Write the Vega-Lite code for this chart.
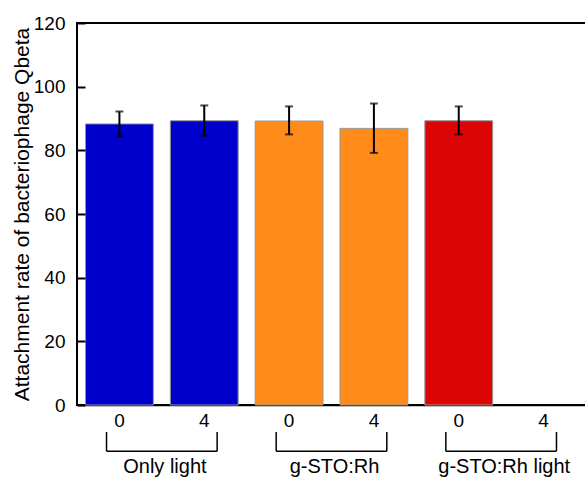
{
  "$schema": "https://vega.github.io/schema/vega-lite/v6.json",
  "autosize": "none",
  "width": 509,
  "height": 382,
  "padding": {"left": 77, "top": 23, "right": 0, "bottom": 73},
  "background": "white",
  "config": {
    "font": "Liberation Sans",
    "view": {"stroke": "black", "strokeWidth": 2},
    "axis": {"grid": false, "domainColor": "black", "domainWidth": 1.5, "labelColor": "black", "titleColor": "black", "labelFont": "Liberation Sans", "titleFont": "Liberation Sans"}
  },
  "datasets": {
    "bars": [
      {"id": "Only light|0", "group": "Only light", "value": 88.3, "lo": 84.4, "hi": 92.2},
      {"id": "Only light|4", "group": "Only light", "value": 89.3, "lo": 84.6, "hi": 94.1},
      {"id": "g-STO:Rh|0", "group": "g-STO:Rh", "value": 89.2, "lo": 85.0, "hi": 93.8},
      {"id": "g-STO:Rh|4", "group": "g-STO:Rh", "value": 86.9, "lo": 79.2, "hi": 94.7},
      {"id": "g-STO:Rh light|0", "group": "g-STO:Rh light", "value": 89.3, "lo": 85.0, "hi": 93.8},
      {"id": "g-STO:Rh light|4", "group": "g-STO:Rh light", "value": null, "lo": null, "hi": null}
    ],
    "groups": [
      {"group": "Only light", "start": "Only light|0", "end": "Only light|4"},
      {"group": "g-STO:Rh", "start": "g-STO:Rh|0", "end": "g-STO:Rh|4"},
      {"group": "g-STO:Rh light", "start": "g-STO:Rh light|0", "end": "g-STO:Rh light|4"}
    ]
  },
  "resolve": {"scale": {"x": "shared", "y": "shared"}},
  "layer": [
    {
      "data": {"name": "bars"},
      "mark": {"type": "bar", "stroke": "#999999", "strokeWidth": 1},
      "encoding": {
        "x": {
          "field": "id", "type": "nominal", "sort": null,
          "scale": {"domain": ["Only light|0", "Only light|4", "g-STO:Rh|0", "g-STO:Rh|4", "g-STO:Rh light|0", "g-STO:Rh light|4"], "paddingInner": 0.2, "paddingOuter": 0.1},
          "axis": {"title": null, "ticks": false, "labelAngle": 0, "labelPadding": 6, "labelFontSize": 19, "labelExpr": "split(datum.value, '|')[1]"}
        },
        "y": {
          "field": "value", "type": "quantitative",
          "scale": {"domain": [0, 120], "nice": false, "zero": true},
          "axis": {"title": "Attachment rate of bacteriophage Qbeta", "titleFontSize": 21, "titleFontWeight": "normal", "values": [0, 20, 40, 60, 80, 100, 120], "domain": false, "offset": -8, "ticks": true, "tickSize": 8, "tickWidth": 2, "tickColor": "black", "labelPadding": 12, "labelFontSize": 19, "titlePadding": 1, "zindex": 1}
        },
        "color": {
          "field": "group", "type": "nominal", "legend": null,
          "scale": {"domain": ["Only light", "g-STO:Rh", "g-STO:Rh light"], "range": ["#0000cc", "#ff8c1a", "#dc0505"]}
        }
      }
    },
    {
      "data": {"name": "bars"},
      "mark": {"type": "rule", "color": "black", "strokeWidth": 2},
      "encoding": {
        "x": {"field": "id", "type": "nominal"},
        "y": {"field": "lo", "type": "quantitative"},
        "y2": {"field": "hi"}
      }
    },
    {
      "data": {"name": "bars"},
      "mark": {"type": "tick", "color": "black", "size": 8, "thickness": 2},
      "encoding": {
        "x": {"field": "id", "type": "nominal"},
        "y": {"field": "lo", "type": "quantitative"}
      }
    },
    {
      "data": {"name": "bars"},
      "mark": {"type": "tick", "color": "black", "size": 8, "thickness": 2},
      "encoding": {
        "x": {"field": "id", "type": "nominal"},
        "y": {"field": "hi", "type": "quantitative"}
      }
    },
    {
      "data": {"name": "groups"},
      "mark": {"type": "rule", "color": "black", "strokeWidth": 1.5, "clip": false},
      "encoding": {
        "x": {"field": "start", "type": "nominal", "bandPosition": 0.31},
        "x2": {"field": "end", "bandPosition": 0.69},
        "y": {"datum": -14.5}
      }
    },
    {
      "data": {"name": "groups"},
      "mark": {"type": "rule", "color": "black", "strokeWidth": 1.5, "clip": false},
      "encoding": {
        "x": {"field": "start", "type": "nominal", "bandPosition": 0.31},
        "y": {"datum": -8.5},
        "y2": {"datum": -14.5}
      }
    },
    {
      "data": {"name": "groups"},
      "mark": {"type": "rule", "color": "black", "strokeWidth": 1.5, "clip": false},
      "encoding": {
        "x": {"field": "end", "type": "nominal", "bandPosition": 0.69},
        "y": {"datum": -8.5},
        "y2": {"datum": -14.5}
      }
    },
    {
      "data": {"name": "groups"},
      "mark": {"type": "text", "fontSize": 20, "color": "black", "align": "center", "baseline": "alphabetic", "clip": false},
      "encoding": {
        "x": {"field": "start", "type": "nominal", "bandPosition": 1.17},
        "y": {"datum": -21.4},
        "text": {"field": "group"}
      }
    }
  ]
}
